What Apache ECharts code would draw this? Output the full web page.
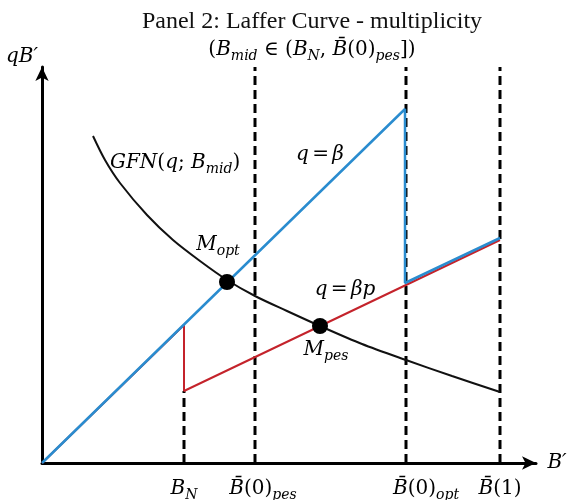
<!DOCTYPE html>
<html>
<head>
<meta charset="utf-8">
<script src="https://cdn.jsdelivr.net/npm/echarts@6/dist/echarts.min.js"></script>
<style>
  html, body { margin: 0; padding: 0; background: #fff; }
  #chart { width: 571px; height: 500px; }
</style>
</head>
<body>
<div id="chart"></div>
<script>
// values (arbitrary units, origin at the axes corner)
var blueX = [0, 363, 363, 458];
var blueY = [0, 354, 180, 225];
var redX = [0, 142, 142, 364, 458];
var redY = [0, 138, 72, 178, 223];
var curveX = [51, 63, 78, 105, 131, 158, 185, 213, 245, 278, 320, 364, 410, 458];
var curveY = [327, 303, 280, 248, 223, 202, 183, 167, 152, 137, 119, 103, 87, 71];
var eqX = [185, 278];
var eqY = [181, 137];
var dashX = [142, 213, 364, 458];
var dashTop = [72, 396, 396, 396];
var tickLabels = [
  '{i|B}{s|N}',
  '{i|B\u0304}{m|(0)}{s|pes}',
  '{i|B\u0304}{m|(0)}{s|opt}',
  '{i|B\u0304}{m|(1)}'
];
var tickLabelX = [142, 221, 384, 458];

var notes = [
  { text: '{i|qB\u2032}', x: -20, y: 406, align: 'center' },
  { text: '{i|B\u2032}', x: 515, y: 0, align: 'center' },
  { text: '{i|GFN}{m|(}{i|q}{m|; }{i|B}{s|mid}{m|)}', x: 68, y: 300, align: 'left' },
  { text: '{i|q} {m|=} {i|\u03b2}', x: 278, y: 308, align: 'center' },
  { text: '{i|M}{s|opt}', x: 176, y: 218, align: 'center' },
  { text: '{i|q} {m|=} {i|\u03b2p}', x: 303, y: 173, align: 'center' },
  { text: '{i|M}{s|pes}', x: 284, y: 113, align: 'center' }
];

var mathFont = 'DejaVu Serif';
var ink = '#000';
var rich = {
  i: { fontFamily: mathFont, fontStyle: 'italic', fontSize: 20, color: ink, lineHeight: 26 },
  m: { fontFamily: mathFont, fontSize: 20, color: ink, lineHeight: 26 },
  s: { fontFamily: mathFont, fontStyle: 'italic', fontSize: 14, color: ink, lineHeight: 14, verticalAlign: 'bottom' }
};

function pairs(xs, ys) {
  return xs.map(function (x, i) { return [x, ys[i]]; });
}

var noteData = notes.map(function (n) {
  return { value: [n.x, n.y], label: { formatter: n.text, align: n.align } };
});
tickLabels.forEach(function (t, i) {
  noteData.push({ value: [tickLabelX[i], -26], label: { formatter: t, align: 'center' } });
});

var series = [];
dashX.forEach(function (x, i) {
  series.push({
    type: 'line',
    data: [[x, 0], [x, dashTop[i]]],
    symbol: 'none',
    silent: true,
    lineStyle: { color: '#000', width: 3, type: [9, 5] }
  });
});
series.push({
  name: 'q = beta p',
  type: 'line',
  data: pairs(redX, redY),
  symbol: 'none',
  lineStyle: { color: '#c4232b', width: 2 }
});
series.push({
  name: 'q = beta',
  type: 'line',
  data: pairs(blueX, blueY),
  symbol: 'none',
  lineStyle: { color: '#2a8ccf', width: 2.5 }
});
series.push({
  name: 'GFN',
  type: 'line',
  data: pairs(curveX, curveY),
  smooth: 0.3,
  symbol: 'none',
  lineStyle: { color: '#111', width: 2 }
});
series.push({
  type: 'scatter',
  data: pairs(eqX, eqY),
  symbolSize: 16,
  itemStyle: { color: '#000', opacity: 1 },
  z: 5
});
series.push({
  type: 'scatter',
  data: noteData,
  symbolSize: 0,
  clip: false,
  silent: true,
  itemStyle: { color: '#fff', opacity: 1 },
  label: { show: true, position: 'inside', color: ink, opacity: 1, textBorderWidth: 0, rich: rich },
  z: 6
});

var chart = echarts.init(document.getElementById('chart'));
chart.setOption({
  animation: false,
  title: {
    text: 'Panel 2: Laffer Curve - multiplicity',
    subtext: '{m|(}{i|B}{s|mid}{m| \u2208 (}{i|B}{s|N}{m|, }{i|B\u0304}{m|(0)}{s|pes}{m|])}',
    left: 307,
    top: 5,
    textAlign: 'center',
    itemGap: 3,
    textStyle: { fontFamily: 'Liberation Serif', fontWeight: 'normal', fontSize: 24, color: '#111' },
    subtextStyle: { rich: rich }
  },
  grid: { left: 42, right: 35, top: 67, bottom: 37 },
  xAxis: {
    type: 'value',
    min: 0,
    max: 494,
    axisLine: { show: true, symbol: ['none', 'arrow'], symbolSize: [10, 14], lineStyle: { color: '#000', width: 3 } },
    axisTick: { show: false },
    axisLabel: { show: false },
    splitLine: { show: false }
  },
  yAxis: {
    type: 'value',
    min: 0,
    max: 396,
    axisLine: { show: true, symbol: ['none', 'arrow'], symbolSize: [10, 14], lineStyle: { color: '#000', width: 3 } },
    axisTick: { show: false },
    axisLabel: { show: false },
    splitLine: { show: false }
  },
  series: series
});
</script>
</body>
</html>
